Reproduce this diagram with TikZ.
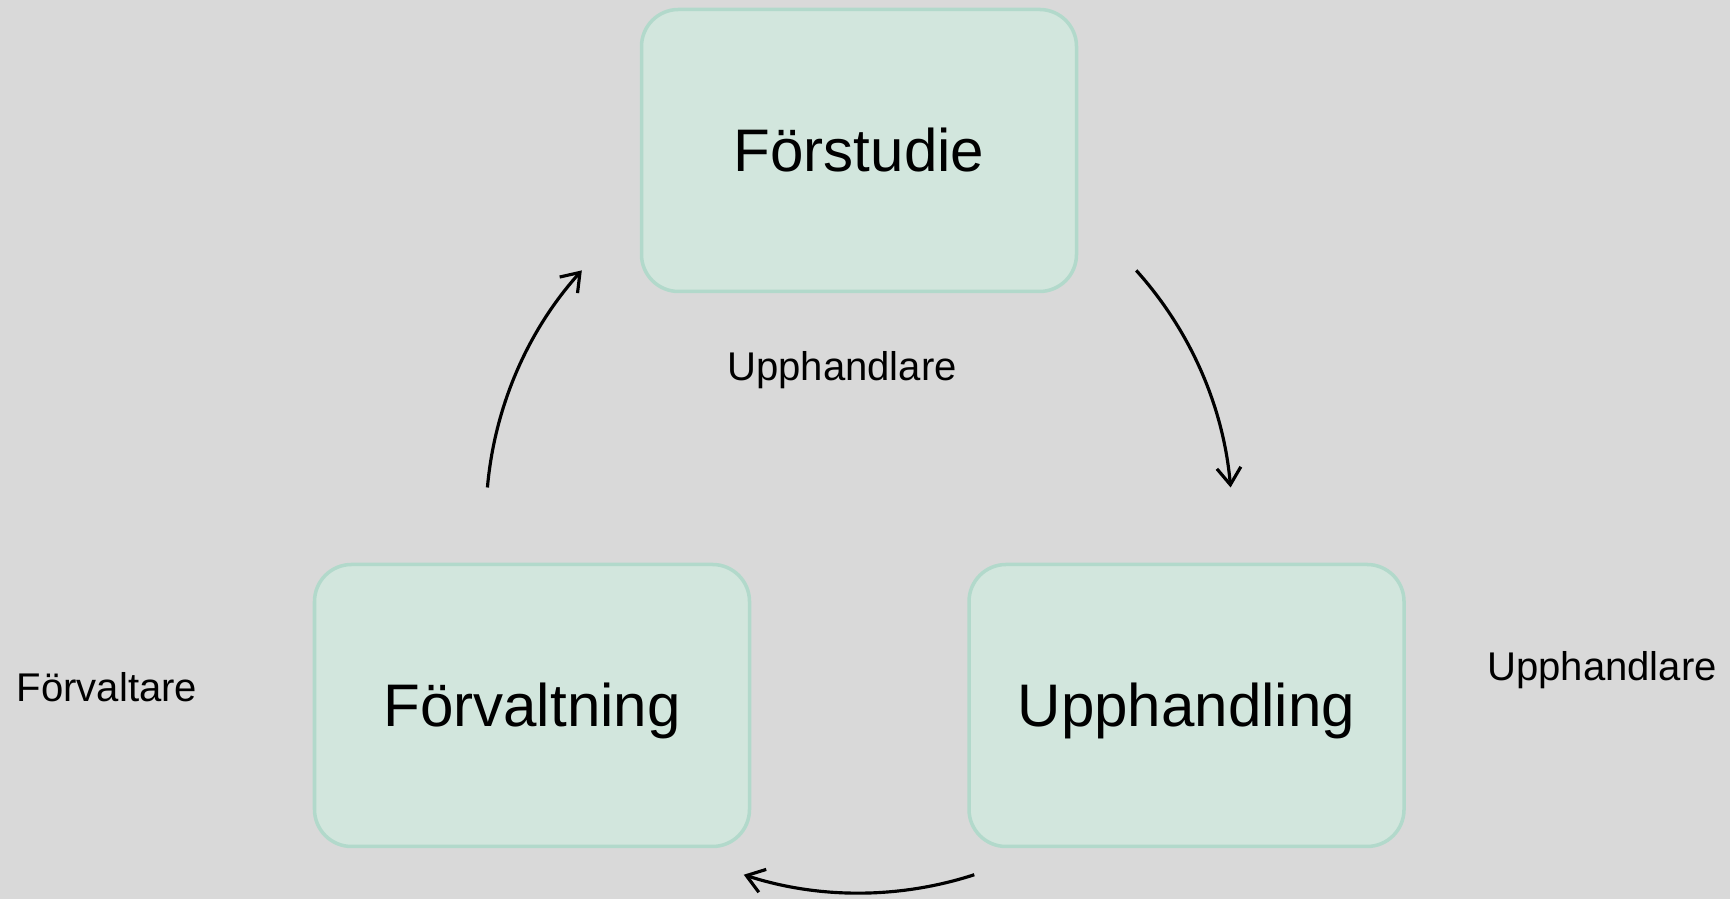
\documentclass[tikz,border=0pt]{standalone}
\usepackage{fontspec}
\setmainfont{Liberation Sans}
\usetikzlibrary{arrows.meta}

\definecolor{bggray}{RGB}{217,217,217}
\definecolor{boxfill}{RGB}{210,230,221}
\definecolor{boxline}{RGB}{178,217,203}

\begin{document}
\begin{tikzpicture}
        [phase/.style={draw=boxline,line width=1pt,fill=boxfill,rounded corners=0.37cm,
            minimum width=4.35cm,minimum height=2.82cm,inner sep=0,
            font=\fontsize{17.1}{20}\selectfont,text height=12.2pt,text depth=0pt},
         role/.style={inner sep=0,font=\fontsize{11.4}{14}\selectfont,text height=8.2pt,text depth=0pt},
         cyc/.style={line width=0.9pt,-{Straight Barb[length=0.17cm,width=0.24cm,line width=0.9pt]}}]

        \fill[bggray] (0,0) rectangle (17.3,8.99);
        \useasboundingbox (0,0) rectangle (17.3,8.99);

        \node[phase] (p1) at (8.59, 7.485) {Förstudie};
        \node[phase] (p2) at (11.865, 1.935) {Upphandling};
        \node[phase] (p3) at (5.32, 1.935) {Förvaltning};

        \node[role] (r1) at (8.42, 5.33) {Upphandlare};
        \node[role] (r2) at (16.02, 2.33) {Upphandlare};
        \node[role] (r3) at (1.07, 2.12) {Förvaltare};

        % centre of the cycle
        \coordinate (c) at (8.59, 3.79);
        \coordinate (a1) at ([shift={(42:3.73)}]c);
        \coordinate (a2) at ([shift={(-72:3.73)}]c);
        \coordinate (a3) at ([shift={(175:3.73)}]c);

        \draw[cyc] (a1) arc[start angle=42, end angle=5, radius=3.73];
        \draw[cyc] (a2) arc[start angle=-72, end angle=-108, radius=3.73];
        \draw[cyc] (a3) arc[start angle=175, end angle=138, radius=3.73];
      \end{tikzpicture}
\end{document}
